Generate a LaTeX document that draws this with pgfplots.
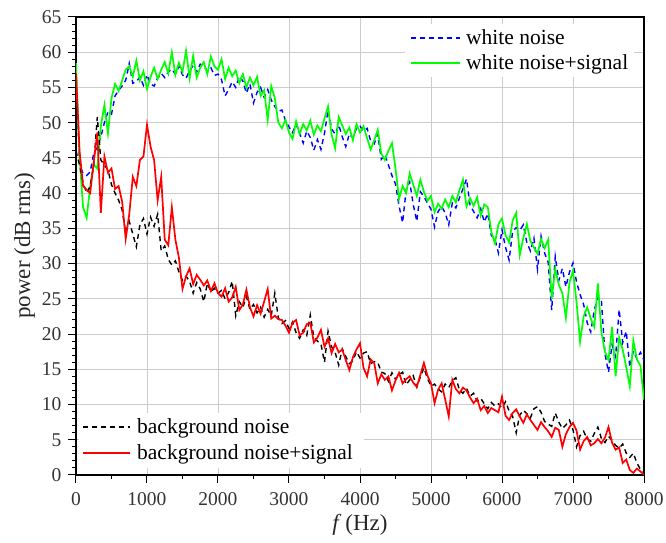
\documentclass[border=0pt]{standalone}
\usepackage{fontspec}
\setmainfont{Liberation Serif}
\usepackage{pgfplots}
\usepackage{pgfplotstable}
\pgfplotsset{compat=1.18}
\definecolor{wnblue}{HTML}{0000FF}
\definecolor{wnsgreen}{HTML}{00FF00}
\definecolor{bnsred}{HTML}{FF0000}

% f (Hz), white noise, white noise+signal, background noise, background noise+signal
\pgfplotstableread{
f    wn    wns   bn    bns
0    57.5  58.5  46.0  57.0
50   44.0  45.0  44.0  46.0
100  42.8  38.0  41.5  41.0
150  42.5  36.5  40.0  40.5
200  43.0  41.0  41.0  40.0
250  45.7  44.0  44.0  44.5
300  46.5  43.5  50.8  48.6
350  48.0  49.5  44.7  37.2
400  50.0  52.5  44.0  45.2
450  51.5  48.5  43.3  42.9
500  51.2  53.5  41.2  43.5
550  53.8  55.5  40.0  40.6
600  54.6  54.5  39.0  41.0
650  55.2  56.0  37.6  38.8
700  56.0  57.5  34.4  33.5
750  58.4  58.0  36.0  37.0
800  55.6  56.5  34.2  42.3
850  55.8  58.8  32.4  41.0
900  56.5  56.0  35.5  44.7
950  55.3  57.3  36.4  45.2
1000 56.8  54.8  34.2  49.7
1050 55.5  56.5  36.6  46.6
1100 55.2  57.8  35.3  44.7
1150 56.3  56.2  37.0  39.0
1200 57.0  57.5  31.8  42.3
1250 56.4  58.6  32.5  33.4
1300 57.2  57.0  30.6  32.6
1350 57.6  60.0  29.8  38.0
1400 56.9  56.8  30.4  33.4
1450 58.0  58.5  28.8  30.8
1500 56.8  57.2  27.6  26.4
1550 56.3  60.2  28.2  28.2
1600 57.4  56.3  27.5  29.3
1650 58.1  59.5  25.8  27.1
1700 57.2  56.4  27.3  28.4
1750 58.3  57.8  26.4  27.7
1800 58.0  58.6  24.6  26.9
1850 57.3  56.9  27.2  27.6
1900 57.8  59.4  26.0  26.1
1950 56.7  58.0  26.5  27.2
2000 56.9  57.5  25.8  25.8
2050 56.1  59.0  26.2  25.3
2100 53.8  56.2  25.0  26.5
2150 54.7  57.8  25.9  24.6
2200 55.8  56.6  27.5  25.2
2250 55.0  57.4  22.6  26.7
2300 56.6  55.6  24.6  23.4
2350 55.9  56.9  23.8  24.2
2400 54.2  55.0  25.3  26.3
2450 55.5  56.4  23.5  23.8
2500 52.8  55.3  24.2  22.5
2550 54.3  56.5  23.0  24.1
2600 55.0  53.8  23.8  22.9
2650 53.6  54.6  22.4  24.6
2700 54.7  50.4  23.5  26.4
2750 53.2  55.2  22.6  22.2
2800 52.3  53.5  25.8  22.6
2850 51.6  50.0  22.3  22.1
2900 51.8  49.2  21.5  22.0
2950 50.3  50.4  21.9  21.2
3000 49.4  48.6  20.8  20.2
3050 48.6  47.7  21.7  21.6
3100 49.8  50.2  20.2  22.0
3150 48.5  48.4  19.4  19.8
3200 47.1  49.8  20.6  20.2
3250 48.8  48.9  19.8  21.4
3300 47.9  50.3  22.7  21.6
3350 46.1  48.3  19.5  18.8
3400 47.6  49.6  19.0  19.5
3450 46.2  48.8  18.6  20.6
3500 48.5  50.6  16.0  18.2
3550 51.8  52.3  20.4  19.4
3600 49.1  48.3  18.2  17.3
3650 48.4  46.4  17.4  18.6
3700 49.7  50.8  15.6  17.4
3750 48.0  49.6  17.9  17.8
3800 46.6  48.4  16.8  16.3
3850 48.4  49.3  15.8  14.9
3900 47.8  47.5  16.2  16.7
3950 49.2  49.8  17.5  17.8
4000 49.5  48.6  16.6  18.7
4050 48.8  49.5  17.3  15.2
4100 49.2  47.8  17.5  14.0
4150 47.4  46.2  15.8  16.4
4200 47.0  47.5  16.1  15.9
4250 48.4  49.0  16.0  13.0
4300 44.8  45.6  14.6  14.3
4350 45.5  44.7  14.4  13.5
4400 44.0  46.0  13.3  14.0
4450 42.5  47.1  14.5  12.0
4500 41.3  43.5  13.6  13.4
4550 38.2  39.2  14.2  14.5
4600 35.8  41.0  14.6  13.0
4650 40.5  40.0  12.8  13.6
4700 41.6  42.8  13.5  14.0
4750 38.4  41.2  14.1  13.1
4800 36.0  39.6  12.5  12.5
4850 40.2  41.9  13.9  14.2
4900 39.5  40.2  15.2  15.9
4950 38.6  38.9  13.7  14.1
5000 37.7  39.6  12.6  13.0
5050 35.2  37.3  12.9  10.2
5100 37.4  38.5  12.2  12.1
5150 38.1  37.8  11.8  13.0
5200 37.2  39.1  12.9  10.7
5250 35.5  38.0  12.4  8.3
5300 38.6  39.6  13.4  13.5
5350 37.9  38.7  13.8  12.2
5400 39.3  40.4  12.1  11.6
5450 40.6  41.9  11.6  12.4
5500 42.0  38.1  12.3  12.0
5550 38.3  39.3  11.2  11.0
5600 37.4  38.2  11.6  10.2
5650 36.5  39.4  10.5  10.8
5700 37.8  36.8  10.9  9.2
5750 35.9  38.4  10.1  9.8
5800 37.1  38.0  9.4   8.8
5850 34.0  34.5  10.3  9.5
5900 33.5  32.9  9.8   9.2
5950 31.5  35.6  10.1  8.9
6000 34.8  36.4  9.5   11.1
6050 32.3  34.0  10.4  8.4
6100 30.5  33.0  9.1   7.8
6150 34.6  36.1  8.3   8.8
6200 35.1  37.2  6.0   9.3
6250 34.7  31.2  8.5   8.3
6300 35.5  33.6  9.2   7.4
6350 33.0  35.6  8.7   8.6
6400 31.8  33.2  8.1   7.8
6450 33.6  32.3  9.4   7.1
6500 29.2  31.4  9.7   6.4
6550 33.9  33.5  8.9   7.5
6600 31.5  32.2  7.6   6.8
6650 30.2  33.4  7.2   6.2
6700 23.4  25.0  6.9   5.4
6750 31.0  29.3  8.8   6.7
6800 27.6  27.0  7.5   6.4
6850 29.3  25.8  6.6   4.0
6900 26.7  22.3  7.1   5.8
6950 28.8  27.3  7.8   6.8
7000 30.1  29.0  6.4   7.4
7050 27.4  24.5  4.0   6.3
7100 25.6  18.9  5.6   3.6
7150 24.2  22.5  6.2   4.8
7200 21.6  23.8  5.1   5.4
7250 20.3  22.2  4.8   4.2
7300 23.4  21.0  5.9   4.5
7350 25.3  27.2  6.8   5.1
7400 24.8  20.3  5.2   4.5
7450 17.2  17.5  4.6   5.3
7500 14.6  16.3  5.5   6.8
7550 18.5  21.0  4.9   4.6
7600 16.8  14.0  4.2   3.6
7650 23.5  19.5  3.8   3.9
7700 18.8  17.8  4.4   1.7
7750 20.4  15.3  3.1   2.2
7800 15.3  12.6  2.5   0.7
7850 17.6  19.1  3.1   0.3
7900 16.5  16.4  1.7   0.9
7950 17.4  15.5  0.8   0.5
8000 16.3  10.7  0.3   0.0
}\spec

\tikzset{
  wnstyle/.style={wnblue, line width=1.4pt, dash pattern=on 5pt off 4pt},
  wnsstyle/.style={wnsgreen, line width=1.7pt},
  bnstyle/.style={black, line width=1.4pt, dash pattern=on 5pt off 4pt},
  bnsstyle/.style={bnsred, line width=1.7pt},
  legtext/.style={anchor=base west, inner sep=0pt, font=\fontsize{21.5}{24}\selectfont},
}

\begin{document}
\begin{tikzpicture}
\begin{axis}[
  name=ax,
  width=568pt, height=458pt, scale only axis,
  xmin=0, xmax=8000, ymin=0, ymax=65,
  xtick={0,1000,...,8000}, ytick={0,5,...,65},
  minor x tick num=1, minor y tick num=4,
  tick align=outside, xtick pos=bottom, ytick pos=left,
  major tick length=8pt, minor tick length=4pt,
  every tick/.style={black, line width=1pt},
  axis line style={black, line width=1.3pt},
  grid=major, grid style={gray!40, line width=0.9pt},
  scaled x ticks=false,
  /pgf/number format/assume math mode=true,
  /pgf/number format/set thousands separator={},
  ticklabel style={font=\fontsize{19.5}{22}\selectfont, text=black!80},
  xticklabel style={yshift=-6pt},
  yticklabel style={xshift=-3pt},
  xlabel={\textit{f}\,(Hz)},
  ylabel={power (dB rms)},
  label style={font=\fontsize{23}{26}\selectfont, text=black!85},
  xlabel style={yshift=-2pt},
]
\addplot[wnstyle] table[x=f, y=wn] {\spec};
\addplot[wnsstyle] table[x=f, y=wns] {\spec};
\addplot[bnstyle] table[x=f, y=bn] {\spec};
\addplot[bnsstyle] table[x=f, y=bns] {\spec};
\end{axis}

% legends, set on a white ground over the grid
\fill[white] ([xshift=329pt, yshift=-7pt]ax.north west)
  rectangle ([xshift=558pt, yshift=-60pt]ax.north west);
\draw[wnstyle] ([xshift=335pt, yshift=-21pt]ax.north west) -- ++(49pt,0);
\node[legtext] at ([xshift=390pt, yshift=-28pt]ax.north west) {white noise};
\draw[wnsstyle] ([xshift=335pt, yshift=-46pt]ax.north west) -- ++(49pt,0);
\node[legtext] at ([xshift=390pt, yshift=-53pt]ax.north west) {white noise+signal};

\fill[white] ([xshift=3pt, yshift=7pt]ax.south west)
  rectangle ([xshift=288pt, yshift=62pt]ax.south west);
\draw[bnstyle] ([xshift=7pt, yshift=48pt]ax.south west) -- ++(47pt,0);
\node[legtext] at ([xshift=61pt, yshift=41pt]ax.south west) {background noise};
\draw[bnsstyle] ([xshift=7pt, yshift=22pt]ax.south west) -- ++(47pt,0);
\node[legtext] at ([xshift=61pt, yshift=15pt]ax.south west) {background noise+signal};

\pgfresetboundingbox
\path[use as bounding box] ([xshift=-76pt, yshift=-68pt]ax.south west)
  rectangle ([xshift=22pt, yshift=17pt]ax.north east);
\end{tikzpicture}
\end{document}
